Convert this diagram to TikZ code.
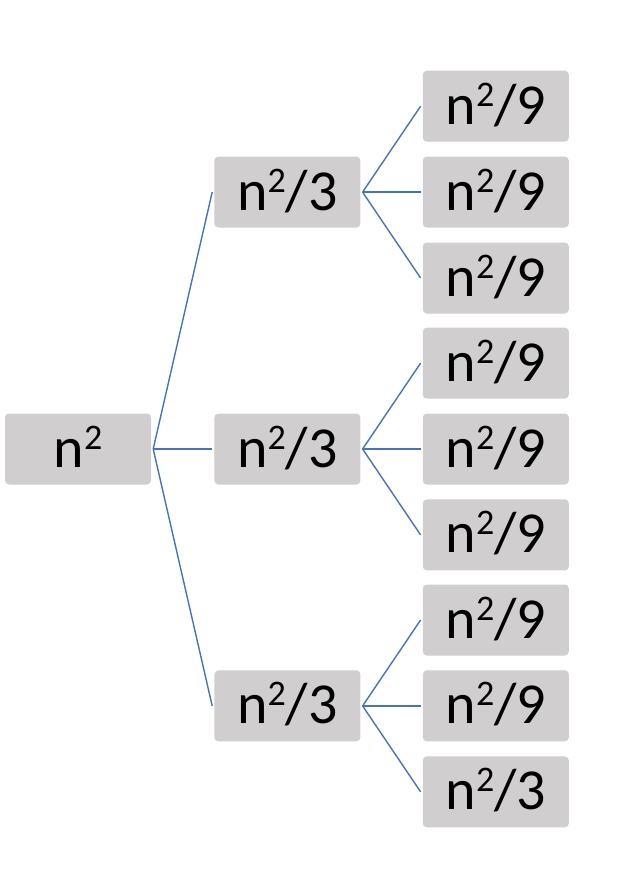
\documentclass[tikz,border=0pt]{standalone}
\usepackage{fontspec}
\setmainfont{Carlito}
\usetikzlibrary{positioning}
\definecolor{Box}{HTML}{D0CECE}
\definecolor{Edge}{HTML}{4472C4}
\newcommand{\sqr}{\raisebox{18pt}{\fontsize{36}{36}\selectfont 2}}
\begin{document}
\begin{tikzpicture}[
 x=1pt,y=-1pt,
 node distance=14.5pt and 62pt,
 b/.style={fill=Box,rounded corners=4pt,minimum width=146pt,inner sep=0pt,text height=53.5pt,text depth=17.5pt,font=\fontsize{58}{58}\selectfont},
 a/.style={draw=Edge,line width=1.4pt}
]
\useasboundingbox (0,0) rectangle (622,884);
\node[b] (root) at (78,449) {n\sqr};
\node[b,right=63pt of root] (mid2) {n\sqr/3};
\node[b,above=185.5pt of mid2] (mid1) {n\sqr/3};
\node[b,below=185.5pt of mid2] (mid3) {n\sqr/3};
% leaves
\node[b,right=of mid1] (l2) {n\sqr/9};
\node[b,above=of l2] (l1) {n\sqr/9};
\node[b,below=of l2] (l3) {n\sqr/9};
\node[b,right=of mid2] (l5) {n\sqr/9};
\node[b,above=of l5] (l4) {n\sqr/9};
\node[b,below=of l5] (l6) {n\sqr/9};
\node[b,right=of mid3] (l8) {n\sqr/9};
\node[b,above=of l8] (l7) {n\sqr/9};
\node[b,below=of l8] (l9) {n\sqr/3};
\foreach \m in {mid1,mid2,mid3}
 \draw[a] ([xshift=2pt]root.east)--([xshift=-2pt]\m.west);
\foreach \m/\l in {mid1/l1,mid1/l2,mid1/l3,mid2/l4,mid2/l5,mid2/l6,mid3/l7,mid3/l8,mid3/l9}
 \draw[a] ([xshift=2pt]\m.east)--([xshift=-2pt]\l.west);
\end{tikzpicture}
\end{document}
